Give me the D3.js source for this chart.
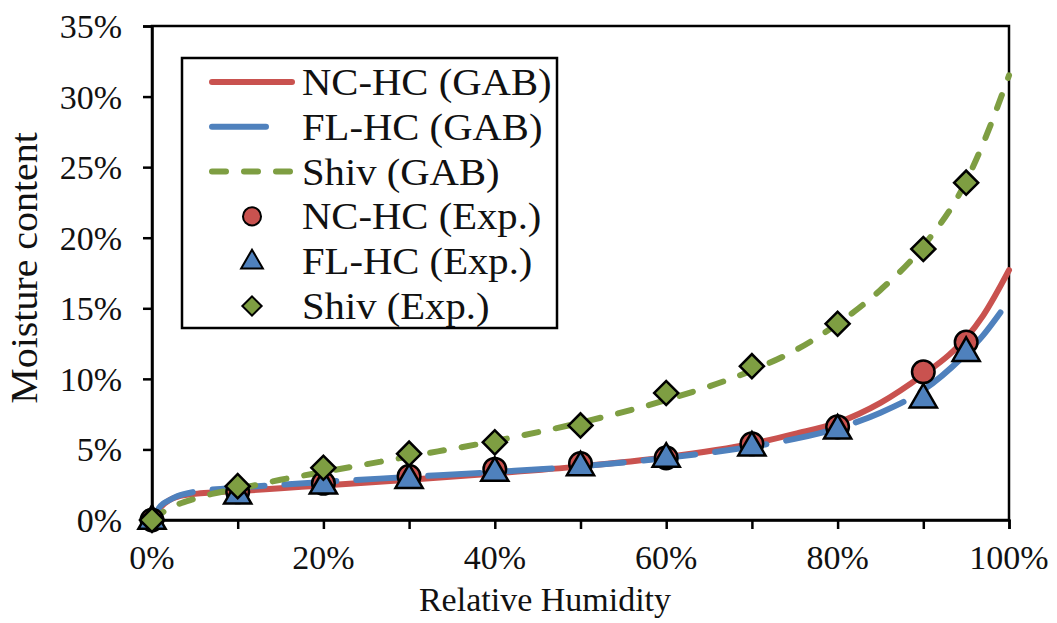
<!DOCTYPE html>
<html><head><meta charset="utf-8">
<script src="https://cdn.jsdelivr.net/npm/d3@7"></script>
<style>html,body{margin:0;padding:0;background:#fff;}svg{display:block;}</style>
</head><body>
<svg id="c" width="1057" height="623"></svg>
<script>
// ---- data ----
const rhGAB_NC = [0,1,2,3,5,7,10,15,20,30,40,50,60,70,75,80,85,90,93,95,97,100];
const mcGAB_NC = [0,0.9,1.4,1.65,1.85,1.95,2.05,2.25,2.45,2.85,3.3,3.8,4.45,5.4,6.1,6.9,8.3,10.3,11.7,12.9,14.5,17.7];
const rhGAB_FL = [0,1,2,3,5,7,10,15,20,30,40,50,60,70,75,80,85,90,95,97,99];
const mcGAB_FL = [0,1.0,1.4,1.7,2.0,2.15,2.3,2.5,2.7,3.05,3.4,3.8,4.4,5.2,5.75,6.5,7.6,9.2,11.8,13.1,14.7];
const rhGAB_SH = [0,1,2,3,5,7,10,15,20,30,40,50,60,70,75,80,85,90,95,97,100];
const mcGAB_SH = [0,0.45,0.8,1.1,1.5,1.85,2.2,2.85,3.4,4.5,5.6,6.9,8.5,10.6,12.0,13.9,16.3,19.4,24.0,26.7,31.5];
const rhExp = [0,10,20,30,40,50,60,70,80,90,95];
const mcExp_NC = [0,2.0,2.6,3.1,3.6,4.0,4.4,5.4,6.6,10.5,12.6];
const mcExp_FL = [0,1.8,2.5,2.9,3.4,3.8,4.4,5.2,6.4,8.6,11.9];
const mcExp_SH = [0,2.4,3.7,4.7,5.5,6.7,9.0,10.9,13.9,19.2,23.9];
const xTicks = [0,10,20,30,40,50,60,70,80,90,100];
const xTickLabels = [0,20,40,60,80,100];
const yTicks = [0,5,10,15,20,25,30,35];
const legendLabels = ["NC-HC (GAB)","FL-HC (GAB)","Shiv (GAB)","NC-HC (Exp.)","FL-HC (Exp.)","Shiv (Exp.)"];

const RED="#C9524F", BLUE="#4F81BD", GREEN="#7E9E42";
const FONT="'Liberation Serif','Times New Roman',serif";

const svg = d3.select("#c");
const L=152, R=1009, T=26, B=520;
const x = d3.scaleLinear().domain([0,100]).range([L,R]);
const y = d3.scaleLinear().domain([0,35]).range([B,T]);

function stext(g, px, py, str, size, anchor, sx){
  const gg = g.append("g").attr("transform",`translate(${px},${py})`);
  gg.append("text").attr("transform",`scale(${sx||1},1)`)
    .attr("text-anchor",anchor).attr("font-family",FONT).attr("font-size",size)
    .attr("fill","#111").text(str);
  return gg;
}

// plot area frame
svg.append("rect").attr("x",L).attr("y",T).attr("width",R-L).attr("height",B-T)
  .attr("fill","none").attr("stroke","#000").attr("stroke-width",2.5);

// axes
const xAxis = d3.axisBottom(x).tickValues(xTicks).tickSize(9).tickFormat("");
const gx = svg.append("g").attr("transform",`translate(0,${B})`).call(xAxis);
gx.select(".domain").attr("stroke","#000").attr("stroke-width",2.5);
gx.selectAll(".tick line").attr("stroke","#000").attr("stroke-width",2.5);
const yAxis = d3.axisLeft(y).tickValues(yTicks).tickSize(9).tickFormat("");
const gy = svg.append("g").attr("transform",`translate(${L},0)`).call(yAxis);
gy.select(".domain").attr("stroke","#000").attr("stroke-width",2.5);
gy.selectAll(".tick line").attr("stroke","#000").attr("stroke-width",2.5);

xTickLabels.forEach(v=>stext(svg, x(v), 569, v+"%", 34, "middle", 1.0));
yTicks.forEach(v=>stext(svg, 122, y(v)+12, v+"%", 34, "end", 1.0));

// axis titles
stext(svg, 545, 611, "Relative Humidity", 34, "middle", 1.0);
const yt = svg.append("g").attr("transform","translate(37,268) rotate(-90)");
yt.append("text").attr("transform","scale(1.05,1)").attr("text-anchor","middle")
  .attr("font-family",FONT).attr("font-size",38).attr("fill","#111").text("Moisture content");

// curves
const line = d3.line().x(d=>x(d[0])).y(d=>y(d[1])).curve(d3.curveMonotoneX);
const zip = (a,b)=>a.map((v,i)=>[v,b[i]]);
const g = svg.append("g");
g.append("path").attr("d",line(zip(rhGAB_NC,mcGAB_NC))).attr("fill","none")
  .attr("stroke",RED).attr("stroke-width",6).attr("stroke-linecap","round");
g.append("path").attr("d",line(zip(rhGAB_FL,mcGAB_FL))).attr("fill","none")
  .attr("stroke",BLUE).attr("stroke-width",6).attr("stroke-linecap","round")
  .attr("stroke-dasharray","52,20");
g.append("path").attr("d",line(zip(rhGAB_SH,mcGAB_SH))).attr("fill","none")
  .attr("stroke",GREEN).attr("stroke-width",6).attr("stroke-linecap","round")
  .attr("stroke-dasharray","14,18");

// markers
const circ = d3.symbol().type(d3.symbolCircle).size(400);
const tri = d3.symbol().type(d3.symbolTriangle).size(320);
const dia = d3.symbol().type(d3.symbolSquare).size(290);
function markers(vals, sym, fill, rot, dy){
  g.selectAll(null).data(zip(rhExp, vals)).enter().append("path")
    .attr("d", sym)
    .attr("transform", d=>`translate(${x(d[0])},${y(d[1])+(dy||0)}) rotate(${rot||0})`)
    .attr("fill", fill).attr("stroke","#000").attr("stroke-width",2.5);
}
markers(mcExp_NC, circ, RED);
markers(mcExp_FL, tri, BLUE, 0, 1);
markers(mcExp_SH, dia, GREEN, 45);

// legend
const lg = svg.append("g");
lg.append("rect").attr("x",182).attr("y",58).attr("width",375).attr("height",270)
  .attr("fill","#fff").attr("stroke","#000").attr("stroke-width",2.5);
const rowY = i => 82 + i*44.8;
legendLabels.forEach((t,i)=>stext(lg, 302, rowY(i)+13, t, 38, "start", 1.07));
const lineStyles = [[RED,null,292],[BLUE,null,266],[GREEN,"14,18",292]];
lineStyles.forEach((s,i)=>{
  lg.append("line").attr("x1",212).attr("x2",s[2]).attr("y1",rowY(i)).attr("y2",rowY(i))
    .attr("stroke",s[0]).attr("stroke-width",6).attr("stroke-linecap","round")
    .attr("stroke-dasharray",s[1]);
});
const lm = [[circ,RED,0,0],[tri,BLUE,0,1],[dia,GREEN,45,0]];
lm.forEach((m,i)=>{
  lg.append("path").attr("d",m[0])
    .attr("transform",`translate(252,${rowY(i+3)+m[3]}) rotate(${m[2]}) scale(0.8)`)
    .attr("fill",m[1]).attr("stroke","#000").attr("stroke-width",2.5);
});
</script>
</body></html>
